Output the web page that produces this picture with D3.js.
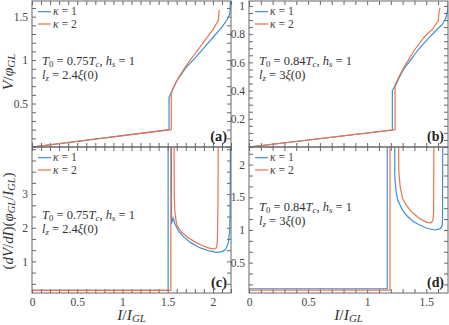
<!DOCTYPE html>
<html lang="en">
<head>
<meta charset="UTF-8">
<title>IV curves</title>
<style>
  body { margin: 0; background: #fff; }
  svg { display: block; }
  svg text { font-family: "Liberation Serif", "DejaVu Serif", serif; }
  .tick text { font-family: "Liberation Serif", "DejaVu Serif", serif; font-size: 11.5px; fill: #444; }
  .tick line { stroke: #666; }
  .frame { fill: none; stroke: #666; stroke-width: 1; }
</style>
<script src="https://d3js.org/d3.v7.min.js"></script>
</head>
<body>
<script>
// ---- data: [I/I_GL, value], null = pen up ----
var aBlue = [[0,0],[1.515,0.2],[1.515,0.57],[1.55,0.65],[1.60,0.76],[1.70,0.91],[1.80,1.02],[1.90,1.14],[2.00,1.26],[2.10,1.38],[2.16,1.47],[2.185,1.53],[2.19,1.58],[2.195,1.75]];
var aOrange = [[0,0],[1.54,0.2],[1.54,0.61],[1.56,0.68],[1.62,0.80],[1.70,0.93],[1.80,1.07],[1.90,1.21],[2.00,1.35],[2.04,1.42],[2.06,1.46],[2.07,1.58]];

var bBlue = [[0,0],[1.213,0.12],[1.213,0.40],[1.241,0.44],[1.270,0.49],[1.312,0.556],[1.37,0.62],[1.426,0.684],[1.48,0.735],[1.539,0.789],[1.60,0.84],[1.639,0.872],[1.667,0.918],[1.681,0.965],[1.686,1.04]];
var bOrange = [[0,0],[1.236,0.123],[1.236,0.44],[1.27,0.50],[1.312,0.567],[1.355,0.625],[1.397,0.684],[1.44,0.732],[1.482,0.778],[1.52,0.81],[1.554,0.836],[1.582,0.872],[1.601,0.895],[1.61,0.965],[1.618,0.988]];

var cBlue = [[0,0.14],[1.505,0.14],[1.505,5],null,[1.54,5],[1.543,2.12],[1.56,2.29],[1.58,2.12],[1.62,1.90],[1.68,1.72],[1.76,1.55],[1.86,1.40],[1.96,1.31],[2.04,1.27],[2.10,1.29],[2.14,1.35],[2.17,1.55],[2.185,1.9],[2.19,2.4],[2.195,5]];
var cOrange = [[0,0.14],[1.535,0.14],[1.535,5],null,[1.57,5],[1.572,3.0],[1.58,2.45],[1.60,2.08],[1.65,1.88],[1.72,1.72],[1.80,1.58],[1.88,1.47],[1.95,1.40],[2.00,1.37],[2.03,1.38],[2.045,1.45],[2.05,1.7],[2.055,2.5],[2.06,5]];

var dBlue = [[0,0.1],[1.17,0.1],[1.17,3],null,[1.232,3],[1.234,1.8],[1.245,1.58],[1.26,1.45],[1.30,1.30],[1.34,1.21],[1.39,1.13],[1.44,1.08],[1.50,1.03],[1.57,1.0],[1.62,1.02],[1.635,1.07],[1.638,1.2],[1.64,3]];
var dOrange = [[0,0.08],[1.193,0.08],[1.193,3],null,[1.265,3],[1.267,1.9],[1.28,1.65],[1.30,1.48],[1.33,1.38],[1.38,1.27],[1.44,1.18],[1.50,1.12],[1.54,1.11],[1.555,1.14],[1.562,1.25],[1.566,3]];

var seriesNames = ["\u03BA = 1", "\u03BA = 2"];
var panelTags = ["(a)", "(b)", "(c)", "(d)"];
var temps = ["0.75", "0.84"];
var lengths = ["2.4", "3"];

var xTicksAC = [0, 0.5, 1, 1.5, 2];
var xTicksBD = [0, 0.5, 1, 1.5];
var yTicksA = [0.5, 1, 1.5];
var yTicksB = [0.2, 0.4, 0.6, 0.8, 1];
var yTicksC = [1, 2, 3];
var yTicksD = [0.5, 1, 1.5, 2];

var blue = "#3d8fd4", orange = "#e8744e";

const w = 449, h = 325;
const svg = d3.select("body").append("svg").attr("width", w).attr("height", h);

var fmt = d => String(+d.toFixed(3));
var near = (arr, v) => arr.some(t => Math.abs(t - v) < 1e-6);

// rich text: parts = [[text, kind]] kind: r roman, i italic, s sub italic, sr sub roman
function rich(t, parts) {
  var off = 0;
  parts.forEach(p => {
    var ts = t.append("tspan").text(p[0]);
    var sub = p[1] == "s" || p[1] == "sr";
    var want = sub ? 2.2 : 0;
    if (want != off) { ts.attr("dy", want - off); off = want; }
    if (p[1] != "r" && p[1] != "sr") ts.attr("font-style", "italic");
    if (sub) ts.attr("font-size", "0.7em");
  });
}

// scale a text's font so it spans about `target` px
function fit(t, target) {
  var fs = +t.attr("font-size");
  var len = t.node().getComputedTextLength();
  if (len > 0) t.attr("font-size", Math.min(fs * 1.2, fs * target / len).toFixed(2));
  return +t.attr("font-size");
}

function minorRange(dom, step) {
  var out = [];
  for (var k = Math.ceil(dom[0] / step - 1e-9); k * step <= dom[1] + 1e-9; k++) out.push(+(k * step).toFixed(6));
  return out;
}

function panel(o) {
  var x = d3.scaleLinear().domain(o.xd).range([o.x0, o.x1]);
  var y = d3.scaleLinear().domain(o.yd).range([o.y1, o.y0]);
  var g = svg.append("g");
  var id = "clip" + o.tag.replace(/\W/g, "");
  g.append("clipPath").attr("id", id).append("rect")
    .attr("x", o.x0).attr("y", o.y0).attr("width", o.x1 - o.x0).attr("height", o.y1 - o.y0);

  var xm = minorRange(o.xd, 0.1), ym = minorRange(o.yd, o.ystep);

  var axes = [
    [d3.axisBottom(x), "translate(0," + o.y1 + ")", xm, o.xlabels ? o.xt : [], 5],
    [d3.axisTop(x), "translate(0," + o.y0 + ")", xm, [], 5],
    [d3.axisLeft(y), "translate(" + o.x0 + ",0)", ym, o.yt, 4],
    [d3.axisRight(y), "translate(" + o.x1 + ",0)", ym, [], 5]
  ];
  axes.forEach(a => {
    var vals = Array.from(new Set(a[2].concat(a[3])));
    var ax = g.append("g").attr("transform", a[1])
      .call(a[0].tickValues(vals).tickSize(-4).tickPadding(a[4])
        .tickFormat(d => near(a[3], d) ? fmt(d) : ""));
    ax.attr("font-family", null).attr("font-size", null);
    ax.select(".domain").remove();
  });

  var line = d3.line().defined(d => d).x(d => x(d[0])).y(d => y(d[1]));
  var lines = g.append("g").attr("clip-path", "url(#" + id + ")");
  [[o.s1, blue], [o.s2, orange]].forEach(s => {
    lines.append("path").datum(s[0]).attr("d", line)
      .attr("fill", "none").attr("stroke", s[1]).attr("stroke-width", 1.2);
  });

  g.append("rect").attr("class", "frame")
    .attr("x", o.x0).attr("y", o.y0).attr("width", o.x1 - o.x0).attr("height", o.y1 - o.y0);

  // legend
  [blue, orange].forEach((c, i) => {
    var ly = o.y0 + 10.7 + i * 12.3;
    g.append("line").attr("x1", o.x0 + 6).attr("x2", o.x0 + 19).attr("y1", ly).attr("y2", ly)
      .attr("stroke", c).attr("stroke-width", 1.2);
    var t = g.append("text").attr("x", o.x0 + 21).attr("y", ly + 3.5)
      .attr("font-size", 11).attr("fill", "#444");
    rich(t, [["\u03BA", "i"], [seriesNames[i].slice(1), "r"]]);
    fit(t, 24);
  });

  // parameters
  var t1 = g.append("text").attr("x", o.x0 + 10).attr("y", o.y0 + o.ty).attr("font-size", 12).attr("fill", "#333");
  rich(t1, [["T", "i"], ["0", "sr"], [" = " + o.temp, "r"], ["T", "i"], ["c", "s"], [", ", "r"], ["h", "i"], ["s", "s"], [" = 1", "r"]]);
  var fs = fit(t1, 93);
  var t2 = g.append("text").attr("x", o.x0 + 10).attr("y", o.y0 + o.ty + 13.5).attr("font-size", fs).attr("fill", "#333");
  rich(t2, [["l", "i"], ["z", "s"], [" = " + o.len, "r"], ["\u03BE", "i"], ["(0)", "r"]]);

  var tag = g.append("text").attr("x", o.x1 - 4).attr("y", o.y1 - 6.5).attr("text-anchor", "end")
    .attr("font-size", 12).attr("font-weight", "bold").attr("fill", "#222").text(o.tag);
  fit(tag, 17);
  return {x: x, y: y};
}

panel({tag: panelTags[0], x0: 32, x1: 231, y0: 1, y1: 147, xd: [0, 2.2], yd: [0, 1.68],
  ystep: 0.1, xt: xTicksAC, yt: yTicksA, xlabels: false, s1: aBlue, s2: aOrange, ty: 64, temp: temps[0], len: lengths[0]});
panel({tag: panelTags[1], x0: 249, x1: 448, y0: 1, y1: 147, xd: [0, 1.684], yd: [0, 1.035],
  ystep: 0.05, xt: xTicksBD, yt: yTicksB, xlabels: false, s1: bBlue, s2: bOrange, ty: 64, temp: temps[1], len: lengths[1]});
panel({tag: panelTags[2], x0: 32, x1: 231, y0: 147, y1: 293, xd: [0, 2.2], yd: [0.06, 4.4],
  ystep: 1 / 3, xt: xTicksAC, yt: yTicksC, xlabels: true, s1: cBlue, s2: cOrange, ty: 72, temp: temps[0], len: lengths[0]});
panel({tag: panelTags[3], x0: 249, x1: 448, y0: 147, y1: 293, xd: [0, 1.684], yd: [0.035, 2.27],
  ystep: 1 / 6, xt: xTicksBD, yt: yTicksD, xlabels: true, s1: dBlue, s2: dOrange, ty: 64, temp: temps[1], len: lengths[1]});

// axis titles
var yt1 = svg.append("text").attr("transform", "translate(13,72) rotate(-90)")
  .attr("text-anchor", "middle").attr("font-size", 13).attr("fill", "#333");
rich(yt1, [["V", "i"], ["/", "r"], ["\u03C6", "i"], ["GL", "s"]]);
fit(yt1, 52);
var yt2 = svg.append("text").attr("transform", "translate(13,221) rotate(-90)")
  .attr("text-anchor", "middle").attr("font-size", 13).attr("fill", "#333");
rich(yt2, [["(", "r"], ["dV", "i"], ["/", "r"], ["dI", "i"], [")(", "r"], ["\u03C6", "i"], ["GL", "s"], ["/", "r"], ["I", "i"], ["GL", "s"], [")", "r"]]);
fit(yt2, 97);
[131.5, 348.5].forEach(cx => {
  var t = svg.append("text").attr("x", cx).attr("y", 320).attr("text-anchor", "middle")
    .attr("font-size", 13).attr("fill", "#333");
  rich(t, [["I", "i"], ["/", "r"], ["I", "i"], ["GL", "s"]]);
  fit(t, 35);
});
</script>
</body>
</html>
